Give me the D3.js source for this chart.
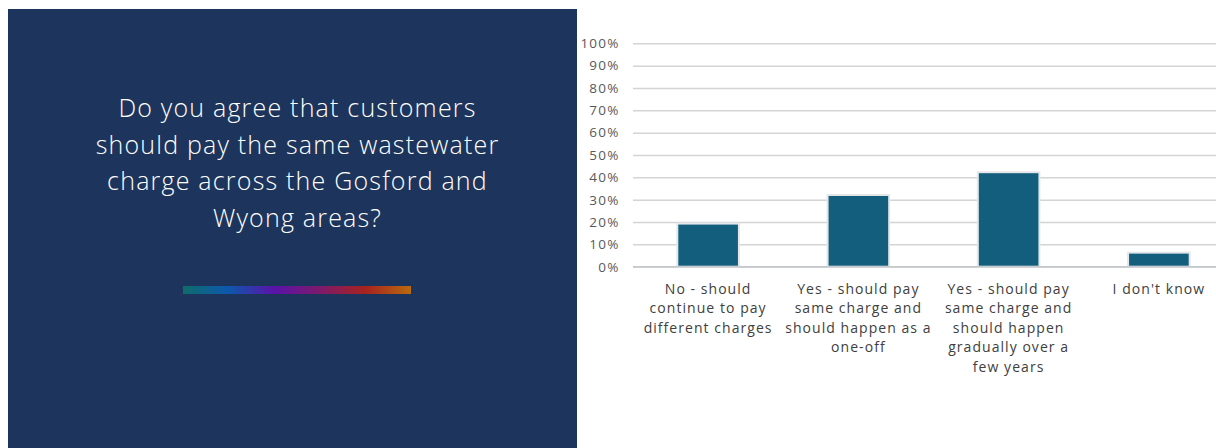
<!DOCTYPE html>
<html>
<head>
<meta charset="utf-8">
<script src="https://cdn.jsdelivr.net/npm/d3@7"></script>
<style>
  body { margin: 0; background: #ffffff; }
  svg { display: block; }
</style>
</head>
<body>
<svg id="chart" width="1216" height="448"></svg>
<script>
// Survey question shown on the left panel
const questionLines = [
  "Do you agree that customers",
  "should pay the same wastewater",
  "charge across the Gosford and",
  "Wyong areas?"
];

// Response options (line breaks as displayed under the axis)
const categories = [
  "No - should\ncontinue to pay\ndifferent charges",
  "Yes - should pay\nsame charge and\nshould happen as a\none-off",
  "Yes - should pay\nsame charge and\nshould happen\ngradually over a\nfew years",
  "I don't know"
];

// Share of respondents (%)
const shares = [19.3, 32.1, 42.3, 6.3];

// Y axis ticks (%)
const yTicks = [0, 10, 20, 30, 40, 50, 60, 70, 80, 90, 100];

// Accent bar gradient colours
const accentColors = ["#0f6c6a", "#0d58ad", "#5a13a8", "#7d1a6c", "#a7231f", "#b96a0e"];

const FONT = "'Open Sans', Lato, sans-serif";

const svg = d3.select("#chart");
const defs = svg.append("defs");

// ---- Left panel ----
svg.append("rect")
  .attr("x", 8).attr("y", 9)
  .attr("width", 569).attr("height", 439)
  .attr("fill", "#1d355c");

svg.append("g")
  .selectAll("text")
  .data(questionLines)
  .join("text")
  .attr("x", 297.5)
  .attr("y", (d, i) => 117 + i * 36.7)
  .attr("text-anchor", "middle")
  .attr("fill", "#ffffff")
  .attr("font-family", FONT)
  .attr("font-weight", 300)
  .attr("font-size", 25)
  .attr("letter-spacing", 1.2)
  .text(d => d);

const grad = defs.append("linearGradient")
  .attr("id", "accent")
  .attr("x1", "0%").attr("x2", "100%").attr("y1", "0%").attr("y2", "0%");
grad.selectAll("stop")
  .data(accentColors)
  .join("stop")
  .attr("offset", (d, i) => (i / (accentColors.length - 1) * 100) + "%")
  .attr("stop-color", d => d);

svg.append("rect")
  .attr("x", 183).attr("y", 286)
  .attr("width", 228).attr("height", 8)
  .attr("fill", "url(#accent)");

// ---- Bar chart ----
const plot = { left: 633, top: 43.3, bottom: 266.7, width: 601 };

const x = d3.scaleBand()
  .domain(categories)
  .range([plot.left, plot.left + plot.width])
  .paddingInner(0.59)
  .paddingOuter(0.295);

const y = d3.scaleLinear()
  .domain([0, 100])
  .range([plot.bottom, plot.top]);

// Gridlines
svg.append("g")
  .attr("transform", `translate(${plot.left},0)`)
  .call(d3.axisLeft(y).tickValues(yTicks).tickSize(-plot.width).tickFormat(""))
  .call(g => g.select(".domain").remove())
  .call(g => g.selectAll(".tick line")
    .attr("stroke", "#d4d4d4")
    .attr("stroke-width", 1.5));

// Y tick labels
svg.append("g")
  .attr("transform", `translate(619.5,0)`)
  .call(d3.axisLeft(y).tickValues(yTicks).tickSize(0).tickPadding(0).tickFormat(d => d + "%"))
  .call(g => g.select(".domain").remove())
  .call(g => g.selectAll("text")
    .attr("fill", "#595959")
    .attr("font-family", FONT)
    .attr("font-size", 13.5)
    .attr("letter-spacing", 1.2));

// Bars
svg.append("g")
  .selectAll("rect")
  .data(shares)
  .join("rect")
  .attr("x", (d, i) => x(categories[i]))
  .attr("y", d => y(d))
  .attr("width", x.bandwidth())
  .attr("height", d => y(0) - y(d))
  .attr("fill", "#125e7c")
  .attr("stroke", "#e4e7ea")
  .attr("stroke-width", 2);

// Baseline
svg.append("line")
  .attr("x1", plot.left).attr("x2", plot.left + plot.width)
  .attr("y1", y(0)).attr("y2", y(0))
  .attr("stroke", "#c3c8cd")
  .attr("stroke-width", 1.5);

// Category labels
const xAxis = svg.append("g")
  .attr("transform", `translate(0,${plot.bottom})`)
  .call(d3.axisBottom(x).tickSize(0).tickFormat(""))
  .call(g => g.select(".domain").remove());

xAxis.selectAll(".tick").each(function (d) {
  const lines = d.split("\n");
  d3.select(this).append("text")
    .attr("fill", "#404040")
    .attr("font-family", FONT)
    .attr("font-size", 14)
    .attr("letter-spacing", 1.05)
    .attr("text-anchor", "middle")
    .selectAll("tspan")
    .data(lines)
    .join("tspan")
    .attr("x", 0)
    .attr("y", (l, i) => 27 + i * 19.5)
    .text(l => l);
});
</script>
</body>
</html>
